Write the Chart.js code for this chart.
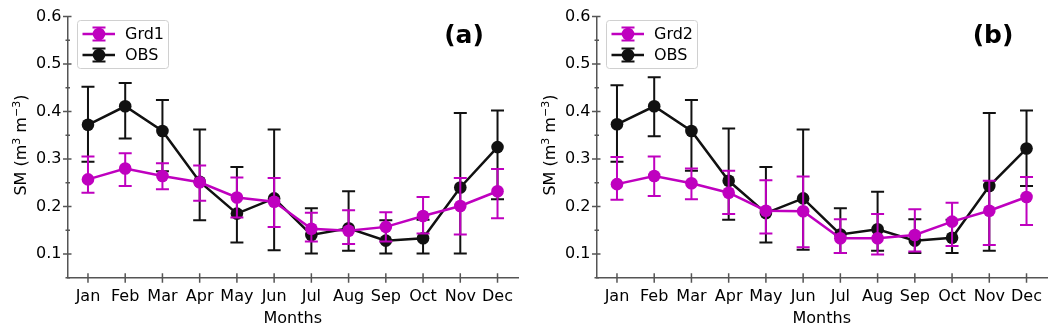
<!DOCTYPE html>
<html><head><meta charset="utf-8">
<script src="https://cdn.jsdelivr.net/npm/chart.js@4/dist/chart.umd.min.js"></script>
<style>
html,body{margin:0;padding:0;background:#fff;}
#wrap{position:relative;width:1058px;height:336px;background:#fff;}
.panel{position:absolute;top:0;width:529px;height:336px;}
</style></head><body>
<div id="wrap">
<div class="panel" style="left:0"><canvas id="ca" width="529" height="336"></canvas></div>
<div class="panel" style="left:529px"><canvas id="cb" width="529" height="336"></canvas></div>
</div>
<script>
// ---------- data ----------
const months = ['Jan','Feb','Mar','Apr','May','Jun','Jul','Aug','Sep','Oct','Nov','Dec'];
const yTicks = [0.1,0.2,0.3,0.4,0.5,0.6];
const yTickLabels = ['0.1','0.2','0.3','0.4','0.5','0.6'];
const yMinorTicks = [0.05,0.15,0.25,0.35,0.45,0.55];

// panel (a)
const grd1Mean = [0.257,0.280,0.264,0.251,0.219,0.210,0.153,0.149,0.157,0.180,0.201,0.232];
const grd1Low  = [0.229,0.243,0.236,0.212,0.177,0.157,0.126,0.121,0.126,0.143,0.141,0.175];
const grd1High = [0.305,0.312,0.291,0.286,0.261,0.260,0.187,0.192,0.188,0.220,0.260,0.279];
const obsAMean = [0.372,0.411,0.359,0.252,0.185,0.217,0.140,0.154,0.128,0.133,0.240,0.325];
const obsALow  = [0.294,0.343,0.274,0.171,0.124,0.108,0.101,0.107,0.101,0.101,0.101,0.215];
const obsAHigh = [0.452,0.460,0.424,0.362,0.283,0.362,0.196,0.232,0.171,0.172,0.397,0.402];

// panel (b)
const grd2Mean = [0.247,0.264,0.249,0.229,0.191,0.190,0.133,0.133,0.140,0.168,0.191,0.220];
const grd2Low  = [0.214,0.222,0.215,0.184,0.143,0.114,0.102,0.099,0.105,0.117,0.119,0.161];
const grd2High = [0.304,0.305,0.280,0.275,0.255,0.263,0.173,0.184,0.194,0.208,0.254,0.262];
const obsBMean = [0.373,0.411,0.359,0.254,0.186,0.217,0.141,0.152,0.128,0.134,0.243,0.322];
const obsBLow  = [0.294,0.348,0.275,0.172,0.124,0.109,0.102,0.107,0.102,0.102,0.107,0.243];
const obsBHigh = [0.455,0.472,0.424,0.364,0.283,0.362,0.196,0.231,0.173,0.172,0.397,0.402];

// ---------- styles ----------
const MAGENTA = '#bf00bf';
const BLACK = '#111111';
const AXIS = '#555555';
const FONT = 'DejaVu Sans';

const errorBarPlugin = {
  id: 'errbars',
  beforeDatasetDraw(chart, args) {
    const ds = chart.data.datasets[args.index];
    if (!ds.errLow) return;
    const ctx = chart.ctx, xs = chart.scales.x, ys = chart.scales.y;
    ctx.save();
    ctx.strokeStyle = ds.borderColor;
    ctx.lineWidth = 2;
    ctx.lineCap = 'butt';
    const cap = 6.5;
    ds.data.forEach((p, i) => {
      const x = xs.getPixelForValue(p.x);
      const y1 = ys.getPixelForValue(ds.errLow[i]);
      const y2 = ys.getPixelForValue(ds.errHigh[i]);
      ctx.beginPath();
      ctx.moveTo(x, y1); ctx.lineTo(x, y2);
      ctx.moveTo(x - cap, y1); ctx.lineTo(x + cap, y1);
      ctx.moveTo(x - cap, y2); ctx.lineTo(x + cap, y2);
      ctx.stroke();
    });
    ctx.restore();
  }
};

const decorPlugin = {
  id: 'decor',
  afterDraw(chart, args, opts) {
    const ctx = chart.ctx, xs = chart.scales.x, ys = chart.scales.y;
    const ca = chart.chartArea;
    const ax = ca.left, ay = ca.bottom;
    ctx.save();
    ctx.strokeStyle = AXIS;
    ctx.lineWidth = 1.5;
    ctx.beginPath();
    yTicks.forEach(v => { const y = ys.getPixelForValue(v); ctx.moveTo(ax - 4.5, y); ctx.lineTo(ax + 4, y); });
    yMinorTicks.forEach(v => { const y = ys.getPixelForValue(v); ctx.moveTo(ax - 2, y); ctx.lineTo(ax + 2.5, y); });
    months.forEach((m, i) => { const x = xs.getPixelForValue(i); ctx.moveTo(x, ay - 4.5); ctx.lineTo(x, ay + 5); });
    ctx.stroke();

    // y-axis title with superscripts
    ctx.save();
    const cy = (ca.top + ca.bottom) / 2 - 2;
    ctx.translate(20, cy);
    ctx.rotate(-Math.PI / 2);
    ctx.fillStyle = '#000';
    ctx.textBaseline = 'alphabetic';
    ctx.textAlign = 'left';
    const big = '16px "' + FONT + '"', small = '11px "' + FONT + '"';
    const parts = [['SM (m', big, 0], ['3', small, -6.5], [' m', big, 0], ['\u22123', small, -6.5], [')', big, 0]];
    let total = 0;
    parts.forEach(p => { ctx.font = p[1]; total += ctx.measureText(p[0]).width; });
    let px = -total / 2;
    parts.forEach(p => { ctx.font = p[1]; ctx.fillText(p[0], px, 6 + p[2]); px += ctx.measureText(p[0]).width; });
    ctx.restore();

    // panel label
    ctx.fillStyle = '#000';
    ctx.font = 'bold 25px "' + FONT + '"';
    ctx.textAlign = 'center';
    ctx.textBaseline = 'middle';
    ctx.fillText(opts.panel, 464, 36);

    // legend
    const bx = 77.5, by = 20.5, bw = 91, bh = 48;
    ctx.beginPath();
    ctx.roundRect(bx, by, bw, bh, 3);
    ctx.fillStyle = 'rgba(255,255,255,0.8)';
    ctx.fill();
    ctx.strokeStyle = '#d0d0d0';
    ctx.lineWidth = 1;
    ctx.stroke();
    const rows = [34, 55];
    chart.data.datasets.forEach((ds, k) => {
      const y = rows[k];
      ctx.strokeStyle = ds.borderColor;
      ctx.fillStyle = ds.borderColor;
      ctx.lineWidth = 2.5;
      ctx.beginPath();
      ctx.moveTo(82.5, y); ctx.lineTo(115, y);
      ctx.stroke();
      ctx.lineWidth = 2;
      ctx.beginPath();
      ctx.moveTo(99, y - 6.5); ctx.lineTo(99, y + 6.5);
      ctx.moveTo(92.5, y - 6.5); ctx.lineTo(105.5, y - 6.5);
      ctx.moveTo(92.5, y + 6.5); ctx.lineTo(105.5, y + 6.5);
      ctx.stroke();
      ctx.beginPath();
      ctx.arc(99, y, 6.3, 0, Math.PI * 2);
      ctx.fill();
      ctx.fillStyle = '#000';
      ctx.font = '16px "' + FONT + '"';
      ctx.textAlign = 'left';
      ctx.textBaseline = 'middle';
      ctx.fillText(ds.label, 125, y + 1);
    });
    ctx.restore();
  }
};

function pts(arr) { return arr.map((v, i) => ({ x: i, y: v })); }

function makeChart(id, panel, gLabel, gMean, gLow, gHigh, oMean, oLow, oHigh) {
  const series = (label, color, mean, lo, hi) => ({
    label, data: pts(mean), errLow: lo, errHigh: hi,
    borderColor: color, backgroundColor: color,
    borderWidth: 2.5, pointRadius: 6.3, pointHoverRadius: 6.3,
    pointBorderWidth: 0, pointBackgroundColor: color, tension: 0, fill: false
  });
  return new Chart(document.getElementById(id), {
    type: 'line',
    data: { datasets: [
      series(gLabel, MAGENTA, gMean, gLow, gHigh),
      series('OBS', BLACK, oMean, oLow, oHigh)
    ] },
    options: {
      responsive: false, animation: false, devicePixelRatio: 1,
      layout: { padding: { left: 0, top: 16.5, right: 11, bottom: 0 } },
      plugins: { legend: { display: false }, tooltip: { enabled: false }, decor: { panel } },
      scales: {
        x: {
          type: 'linear', min: -0.55, max: 11.55,
          afterBuildTicks: s => { s.ticks = months.map((m, i) => ({ value: i })); },
          afterFit: s => { s.height = 336 - 277.7; },
          ticks: { callback: (v) => months[v], autoSkip: false, maxRotation: 0, padding: 10,
                   color: '#000', font: { family: FONT, size: 16 } },
          grid: { display: false, drawTicks: false },
          border: { display: true, color: AXIS, width: 1.5 },
          title: { display: true, text: 'Months', color: '#000', font: { family: FONT, size: 16 },
                   padding: { top: 0, bottom: 7.5 } }
        },
        y: {
          type: 'linear', min: 0.05, max: 0.6,
          afterBuildTicks: s => { s.ticks = yTicks.map(v => ({ value: v })); },
          afterFit: s => { s.width = 67.5; },
          ticks: { callback: (v, i) => yTickLabels[i], padding: 6, color: '#000',
                   font: { family: FONT, size: 16 } },
          grid: { display: false, drawTicks: false },
          border: { display: true, color: AXIS, width: 1.5 },
          title: { display: false }
        }
      }
    },
    plugins: [errorBarPlugin, decorPlugin]
  });
}

makeChart('ca', '(a)', 'Grd1', grd1Mean, grd1Low, grd1High, obsAMean, obsALow, obsAHigh);
makeChart('cb', '(b)', 'Grd2', grd2Mean, grd2Low, grd2High, obsBMean, obsBLow, obsBHigh);
</script>
</body></html>
